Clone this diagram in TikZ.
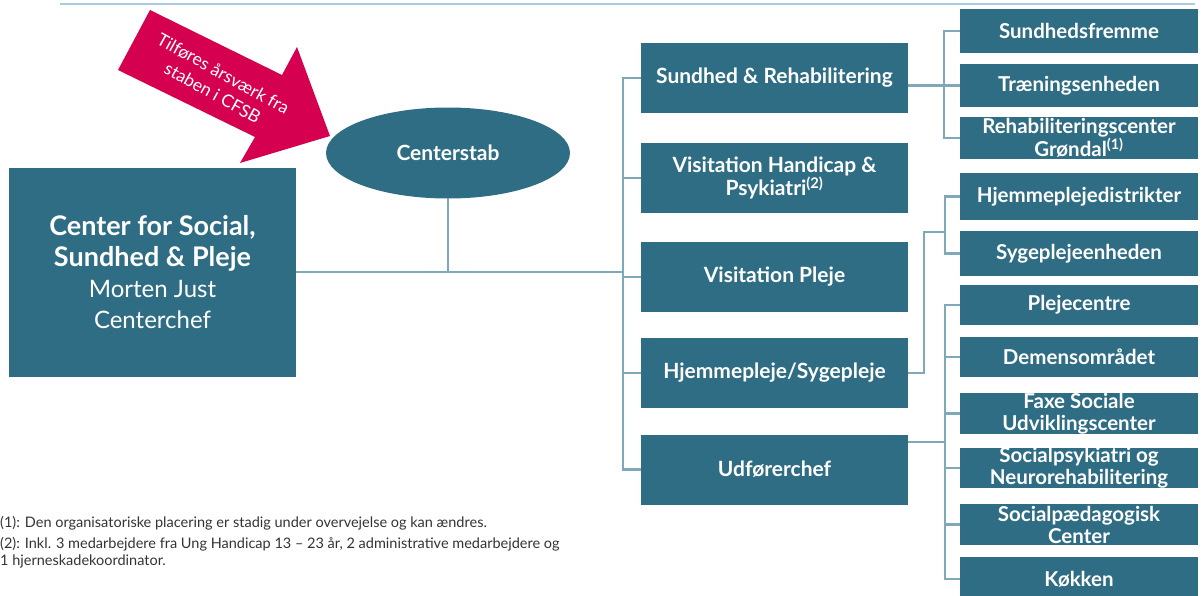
\documentclass[tikz,border=0pt]{standalone}
\usepackage{fontspec}
\setmainfont{Lato}
\usetikzlibrary{shapes.geometric,positioning,calc}

\definecolor{cfsbteal}{HTML}{2F6D84}
\definecolor{cfsbline}{HTML}{7FA8B9}
\definecolor{cfsbpink}{HTML}{D5004F}
\definecolor{cfsbrule}{HTML}{A8CDE0}
\definecolor{cfsbnote}{HTML}{333333}

\tikzset{
  unit/.style={rectangle,fill=cfsbteal,text=white,align=center,inner sep=0pt,
    font=\bfseries\fontsize{21}{23}\selectfont,minimum width=267pt,minimum height=70pt},
  subunit/.style={unit,minimum width=238pt,minimum height=42pt,
    font=\bfseries\fontsize{20.5}{22}\selectfont},
  link/.style={draw=cfsbline,line width=2.2pt},
}

\begin{document}
\begin{tikzpicture}[x=1pt,y=-1pt]
\useasboundingbox (0,0) rectangle (1203,595);
\draw[cfsbrule,line width=2pt] (60,4) -- (1195,4);

% staff arrow
\fill[cfsbpink] (150,10) -- (282,75) -- (297,47) -- (330,136) -- (240,163) -- (255,137) -- (118,70) -- cycle;
\node[text=white,rotate=-29,align=center,font=\fontsize{17.5}{22}\selectfont] (staff) at (218,83) {Tilføres årsværk fra\\staben i CFSB};

% top
\node[unit,minimum width=287pt,minimum height=209pt,font=\fontsize{24}{31}\selectfont] (cfsb) at (152.5,272)
  {{\bfseries\fontsize{27}{31}\selectfont Center for Social,}\\{\bfseries\fontsize{27}{31}\selectfont Sundhed \& Pleje}\\Morten Just\\Centerchef};
\node[ellipse,fill=cfsbteal,text=white,inner sep=0pt,font=\bfseries\fontsize{21}{23}\selectfont,
  minimum width=244pt,minimum height=91pt] (stab) at (448,153) {Centerstab};

% middle column
\node[unit] (sr) at (774.5,78) {Sundhed \& Rehabilitering};
\node[unit] (vhp) at (774.5,178) {Visitation Handicap \&\\Psykiatri\textsuperscript{(2)}};
\node[unit] (vp) at (774.5,277) {Visitation Pleje};
\node[unit] (hs) at (774.5,373) {Hjemmepleje/Sygepleje};
\node[unit] (uf) at (774.5,469.5) {Udførerchef};

% right column
\node[subunit,minimum height=44pt] (sf) at (1079,31) {Sundhedsfremme};
\node[subunit,minimum height=43pt] (te) at (1079,85.5) {Træningsenheden};
\node[subunit] (rg) at (1079,138) {Rehabiliteringscenter\\Grøndal\textsuperscript{(1)}};
\node[subunit,minimum height=47pt] (hd) at (1079,196.5) {\raisebox{-10pt}{Hjemmeplejedistrikter}};
\node[subunit,minimum height=45pt] (se) at (1079,253.5) {Sygeplejeenheden};
\node[subunit,minimum height=40pt] (pc) at (1079,305) {Plejecentre};
\node[subunit,minimum height=40pt] (dm) at (1079,357) {Demensområdet};
\node[subunit,minimum height=41pt] (fs) at (1079,413.5) {Faxe Sociale\\Udviklingscenter};
\node[subunit,minimum height=40pt] (sn) at (1079,468) {Socialpsykiatri og\\Neurorehabilitering};
\node[subunit,minimum height=41pt] (sp) at (1079,524.5) {Socialpædagogisk\\Center};
\node[subunit,minimum height=44pt] (kk) at (1079,579) {Køkken};

% connectors
\coordinate (trunk) at (623,272);
\coordinate (g2) at (945,232);
\coordinate (g3) at (945,442);
\draw[link] (cfsb.east) -- (trunk);
\draw[link] (stab.south) -- (stab.south |- trunk);
\draw[link] (sr.west) -| (trunk |- uf.west) -- (uf.west);
\foreach \n in {vhp,vp,hs}
  \draw[link] (\n.west) -- (\n.west -| trunk);

\draw[link] (te.west) -- (te.west -| sr.east);
\draw[link] (sf.west) -- ++(-16,0) |- (rg.west);

\draw[link] (hd.west) -- ++(-15,0) |- (se.west);
\draw[link] (hs.east) -| ([xshift=-21pt]g2) -- (g2);

\draw[link] (pc.west) -- ++(-15,0) |- (kk.west);
\foreach \n in {dm,fs,sn,sp}
  \draw[link] (\n.west) -- ++(-15,0);
\draw[link] (g3 -| uf.east) -- (g3);

% notes
\node[anchor=west,inner sep=0pt,text=cfsbnote,font=\fontsize{14.5}{17}\selectfont] (fn1) at (0,523)
  {(1): Den organisatoriske placering er stadig under overvejelse og kan ændres.};
\node[anchor=north west,inner sep=0pt,align=left,text=cfsbnote,font=\fontsize{14.5}{17}\selectfont] (fn2) at (0,537)
  {(2): Inkl. 3 medarbejdere fra Ung Handicap 13 -- 23 år, 2 administrative medarbejdere og\\1 hjerneskadekoordinator.};
\end{tikzpicture}
\end{document}
